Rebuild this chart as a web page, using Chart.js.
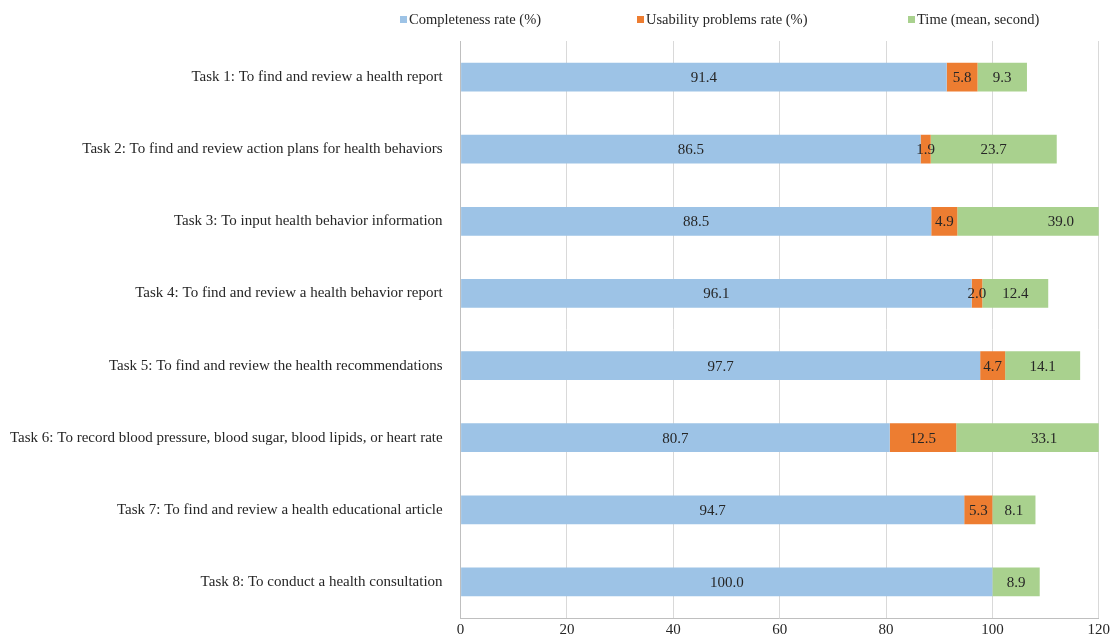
<!DOCTYPE html>
<html lang="en">
<head>
<meta charset="UTF-8">
<title>Task results</title>
<script src="https://cdn.jsdelivr.net/npm/chart.js"></script>
<style>
    html, body { margin: 0; padding: 0; background: #fff; }
    #wrap { width: 1113px; height: 642px; }
</style>
</head>
<body>
<div id="wrap"><canvas id="chart"></canvas></div>
<script>
// Данные задач
const tasks = [
    'Task 1: To find and review a health report',
    'Task 2: To find and review action plans for health behaviors',
    'Task 3: To input health behavior information',
    'Task 4: To find and review a health behavior report',
    'Task 5: To find and review the health recommendations',
    'Task 6: To record blood pressure, blood sugar, blood lipids, or heart rate',
    'Task 7: To find and review a health educational article',
    'Task 8: To conduct a health consultation'
];
const completeness = [91.4, 86.5, 88.5, 96.1, 97.7, 80.7, 94.7, 100.0];
const usability = [5.8, 1.9, 4.9, 2.0, 4.7, 12.5, 5.3, 0];
const timeMean = [9.3, 23.7, 39.0, 12.4, 14.1, 33.1, 8.1, 8.9];
const xTicks = [0, 20, 40, 60, 80, 100, 120];

const serif = '"Liberation Serif", "Times New Roman", serif';
const textColor = '#262626';

// Подписи значений в центре каждого сегмента
const valueLabels = {
    id: 'valueLabels',
    afterDatasetsDraw(chart) {
        const ctx = chart.ctx;
        ctx.save();
        ctx.font = '15px ' + serif;
        ctx.fillStyle = textColor;
        ctx.textAlign = 'center';
        ctx.textBaseline = 'middle';
        chart.data.datasets.forEach((ds, i) => {
            const meta = chart.getDatasetMeta(i);
            meta.data.forEach((bar, j) => {
                const v = ds.data[j];
                if (!v) return;
                ctx.fillText(v.toFixed(1), (bar.x + bar.base) / 2, bar.y + 1);
            });
        });
        ctx.restore();
    }
};

// Своя легенда сверху (встроенная даёт слишком большой отступ)
const legendXs = [400, 637, 908];
const topLegend = {
    id: 'topLegend',
    afterDraw(chart) {
        const ctx = chart.ctx;
        ctx.save();
        ctx.font = '14.5px ' + serif;
        ctx.textBaseline = 'middle';
        chart.data.datasets.forEach((ds, i) => {
            const x = legendXs[i];
            ctx.fillStyle = ds.backgroundColor;
            ctx.fillRect(x, 16, 7, 7);
            ctx.fillStyle = textColor;
            ctx.fillText(ds.label, x + 9, 20);
        });
        ctx.restore();
    }
};

new Chart(document.getElementById('chart'), {
    type: 'bar',
    data: {
        labels: tasks,
        datasets: [
            { label: 'Completeness rate (%)', data: completeness, backgroundColor: '#9DC3E6' },
            { label: 'Usability problems rate (%)', data: usability, backgroundColor: '#ED7D31' },
            { label: 'Time (mean, second)', data: timeMean, backgroundColor: '#A9D18E' }
        ]
    },
    options: {
        indexAxis: 'y',
        responsive: true,
        maintainAspectRatio: false,
        animation: false,
        layout: { padding: { left: 0, right: 9, top: 41, bottom: 0 } },
        datasets: { bar: { barPercentage: 0.4, categoryPercentage: 1 } },
        plugins: {
            legend: { display: false },
            tooltip: { enabled: false }
        },
        scales: {
            x: {
                stacked: true,
                min: 0,
                max: 120,
                afterBuildTicks(axis) { axis.ticks = xTicks.map(v => ({ value: v })); },
                grid: { color: '#d9d9d9', drawTicks: false },
                border: { color: '#bfbfbf' },
                ticks: { color: textColor, padding: 3, font: { family: serif, size: 15 } }
            },
            y: {
                stacked: true,
                grid: { display: false },
                border: { color: '#bfbfbf' },
                ticks: { color: textColor, padding: 10, font: { family: serif, size: 15 } }
            }
        }
    },
    plugins: [valueLabels, topLegend]
});
</script>
</body>
</html>
